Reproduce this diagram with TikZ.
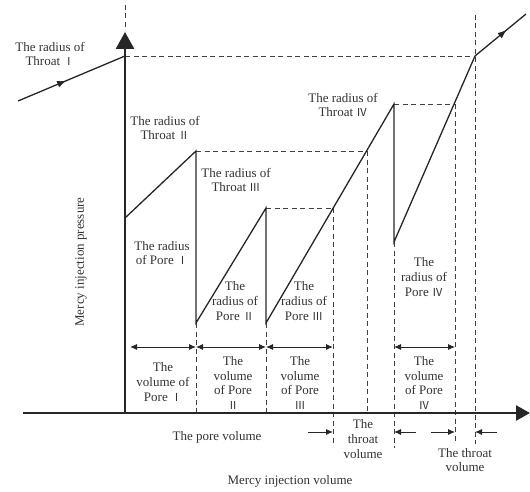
\documentclass[tikz,border=0pt]{standalone}
\usepackage{fontspec}
\setmainfont{Liberation Serif}
\newfontfamily\rnfont{Noto Sans CJK SC}
\newcommand{\RN}[1]{{\rnfont\fontsize{11}{14.5}\selectfont #1}}
\usetikzlibrary{arrows.meta,decorations.markings}
\begin{document}
\begin{tikzpicture}[x=1pt,y=-1pt,
  lbl/.style={font=\fontsize{13}{14.8}\selectfont, align=center, inner sep=0pt, text=black!80},
  dsh/.style={draw=black!75, line width=0.7pt, dash pattern=on 5pt off 3.5pt},
  curve/.style={draw=black!85, line width=1.3pt},
  axis/.style={draw=black!85, line width=2.6pt},
  dim/.style={draw=black!85, line width=0.9pt, {Latex[length=7pt,width=6pt]}-{Latex[length=7pt,width=6pt]}},
  onearrow/.style={draw=black!85, line width=0.9pt, -{Latex[length=7pt,width=6pt]}},
  midarrow/.style={postaction={decorate}, decoration={markings, mark=at position #1 with {\arrow{Latex[length=9pt,width=7pt]}}}}
]
\useasboundingbox (0,0) rectangle (530,492);
% key points
\coordinate (O) at (125,413);
\coordinate (YT) at (125,32);
\coordinate (YD) at (125,5);
\coordinate (XL) at (23,413);
\coordinate (XT) at (530,413);
\coordinate (A0) at (18,101);
\coordinate (A1) at (125,56);
\coordinate (A2) at (125,218);
\coordinate (A3) at (196,151);
\coordinate (A4) at (196,323);
\coordinate (A5) at (266,208);
\coordinate (A6) at (266,323);
\coordinate (A7) at (394,104);
\coordinate (A8) at (394,242);
\coordinate (A9) at (475,56);
\coordinate (A10) at (526,14);
% dashed guide lines
\draw[dsh] (YD) -- (125,30);
\draw[dsh] (A1) -- (A9);
\draw[dsh] (A3) -- (367,151);
\draw[dsh] (A5) -- (333,208);
\draw[dsh] (A7) -- (455,104);
\draw[dsh] (A4) -- (196,413);
\draw[dsh] (A6) -- (266,413);
\draw[dsh] (A5) ++(67,0) coordinate (B3) -- (333,445);
\draw[dsh] (367,151) coordinate (B4) -- (367,413);
\draw[dsh] (A8) -- (394,448);
\draw[dsh] (455,104) coordinate (B5) -- (455,442);
\draw[dsh] (475,15) coordinate (B6) -- (475,444);
% curve
\draw[curve, midarrow=0.45] (A0) -- (A1);
\draw[curve] (A1) -- (A2) -- (A3) -- (A4) -- (A5) -- (A6) -- (A7) -- (A8) -- (A9);
\draw[curve, midarrow=0.62] (A9) -- (A10);
% axes
\draw[axis, -{Triangle[length=17pt,width=18pt]}] (O) -- (YT);
\draw[axis, -{Triangle[length=14pt,width=15pt]}] (XL) -- (XT);
% dimension arrows
\draw[dim] (130,347) -- (196,347);
\draw[dim] (196,347) -- (266,347);
\draw[dim] (266,347) -- (333,347);
\draw[dim] (394,347) -- (455,347);
\draw[onearrow] (308,432) -- (333,432);
\draw[onearrow] (416,432) -- (394,432);
\draw[onearrow] (431,432) -- (455,432);
\draw[onearrow] (497,432) -- (475,432);
% labels
\node[lbl] (t1) at (50,54) {The radius of\\Throat \RN{Ⅰ}};
\node[lbl] (t2) at (165,128) {The radius of\\Throat \RN{Ⅱ}};
\node[lbl] (t3) at (236,180) {The radius of\\Throat \RN{Ⅲ}};
\node[lbl] (t4) at (343,105) {The radius of\\Throat \RN{Ⅳ}};
\node[lbl] (p1) at (162,253) {The radius\\of Pore \RN{Ⅰ}};
\node[lbl] (p2) at (235,301) {The\\radius of\\Pore \RN{Ⅱ}};
\node[lbl] (p3) at (304,301) {The\\radius of\\Pore \RN{Ⅲ}};
\node[lbl] (p4) at (424,277) {The\\radius of\\Pore \RN{Ⅳ}};
\node[lbl] (v1) at (163,382) {The\\volume of\\Pore \RN{Ⅰ}};
\node[lbl] (v2) at (233,383) {The\\volume\\of Pore\\\RN{Ⅱ}};
\node[lbl] (v3) at (300,383) {The\\volume\\of Pore\\\RN{Ⅲ}};
\node[lbl] (v4) at (424,383) {The\\volume\\of Pore\\\RN{Ⅳ}};
\node[lbl] (pv) at (217,437) {The pore volume};
\node[lbl] (tv1) at (363,439) {The\\throat\\volume};
\node[lbl] (tv2) at (465,460) {The throat\\volume};
\node[lbl] (xl) at (290,481) {Mercy injection volume};
\node[lbl, rotate=90] (yl) at (81,262) {Mercy injection pressure};
\end{tikzpicture}
\end{document}
